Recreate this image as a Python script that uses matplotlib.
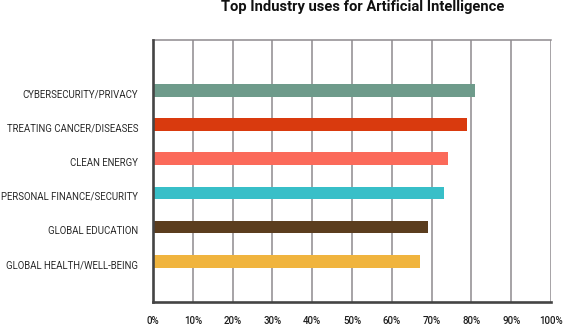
import numpy as np
import matplotlib
matplotlib.use('Agg')
import matplotlib.pyplot as plt
import matplotlib.transforms as mtransforms

plt.rcParams.update({
    'font.family': ['Roboto', 'DejaVu Sans'],
    'axes.unicode_minus': False,
})

# Industries, top to bottom, and share of respondents (%)
industries = [
    'CYBERSECURITY/PRIVACY',
    'TREATING CANCER/DISEASES',
    'CLEAN ENERGY',
    'PERSONAL FINANCE/SECURITY',
    'GLOBAL EDUCATION',
    'GLOBAL HEALTH/WELL-BEING',
]
shares = [81, 79, 74, 73, 69, 67]
bar_colors = ['#6E9B8B', '#D93A0E', '#FB6A5A', '#38BFC8', '#5B3D1E', '#F0B43E']
x_ticks = [0, 10, 20, 30, 40, 50, 60, 70, 80, 90, 100]
x_tick_labels = [f'{t}%' for t in x_ticks]

GRID = '#8E8A8E'
AXIS = '#444444'
TEXT = '#2A2A2A'

fig = plt.figure(figsize=(5.63, 3.25), dpi=100)
ax = fig.add_axes([0.2718, 0.0723, 0.9787 - 0.2718, 0.8769 - 0.0723])

# first category at the top
y_pos = np.arange(len(industries))[::-1]
ax.barh(y_pos, shares, height=0.37, color=bar_colors, zorder=3)

ax.set_xlim(0, 100)
ax.set_ylim(-1.175, 6.47)

ax.set_xticks(x_ticks)
ax.set_xticklabels(x_tick_labels, fontsize=7, fontweight='medium', color='#1E1E1E')
ax.set_yticks(y_pos)
ax.set_yticklabels(industries, fontsize=6.9, color=TEXT)
ax.tick_params(axis='x', length=0, pad=10.5)
ax.tick_params(axis='y', length=0, pad=10.5)

# category labels sit a little below the bar centre
shift = mtransforms.ScaledTranslation(0, -3 / 100, fig.dpi_scale_trans)
for lab in ax.get_yticklabels():
    lab.set_transform(lab.get_transform() + shift)

# vertical grid at every 10%
ax.grid(axis='x', color=GRID, linewidth=1.1, zorder=1)
ax.grid(axis='y', visible=False)

ax.spines['left'].set_color(AXIS)
ax.spines['left'].set_linewidth(1.9)
ax.spines['bottom'].set_color(AXIS)
ax.spines['bottom'].set_linewidth(1.9)
ax.spines['top'].set_color(GRID)
ax.spines['top'].set_linewidth(1.1)
ax.spines['right'].set_visible(False)
for s in ('left', 'bottom'):
    ax.spines[s].set_zorder(4)

fig.text(362.4 / 563, 1 - 7 / 325, 'Top Industry uses for Artificial Intelligence',
         ha='center', va='center', fontsize=10.6, fontweight='bold', color='#111111')

fig.savefig('out.png', dpi=100, facecolor='white')
plt.close(fig)
